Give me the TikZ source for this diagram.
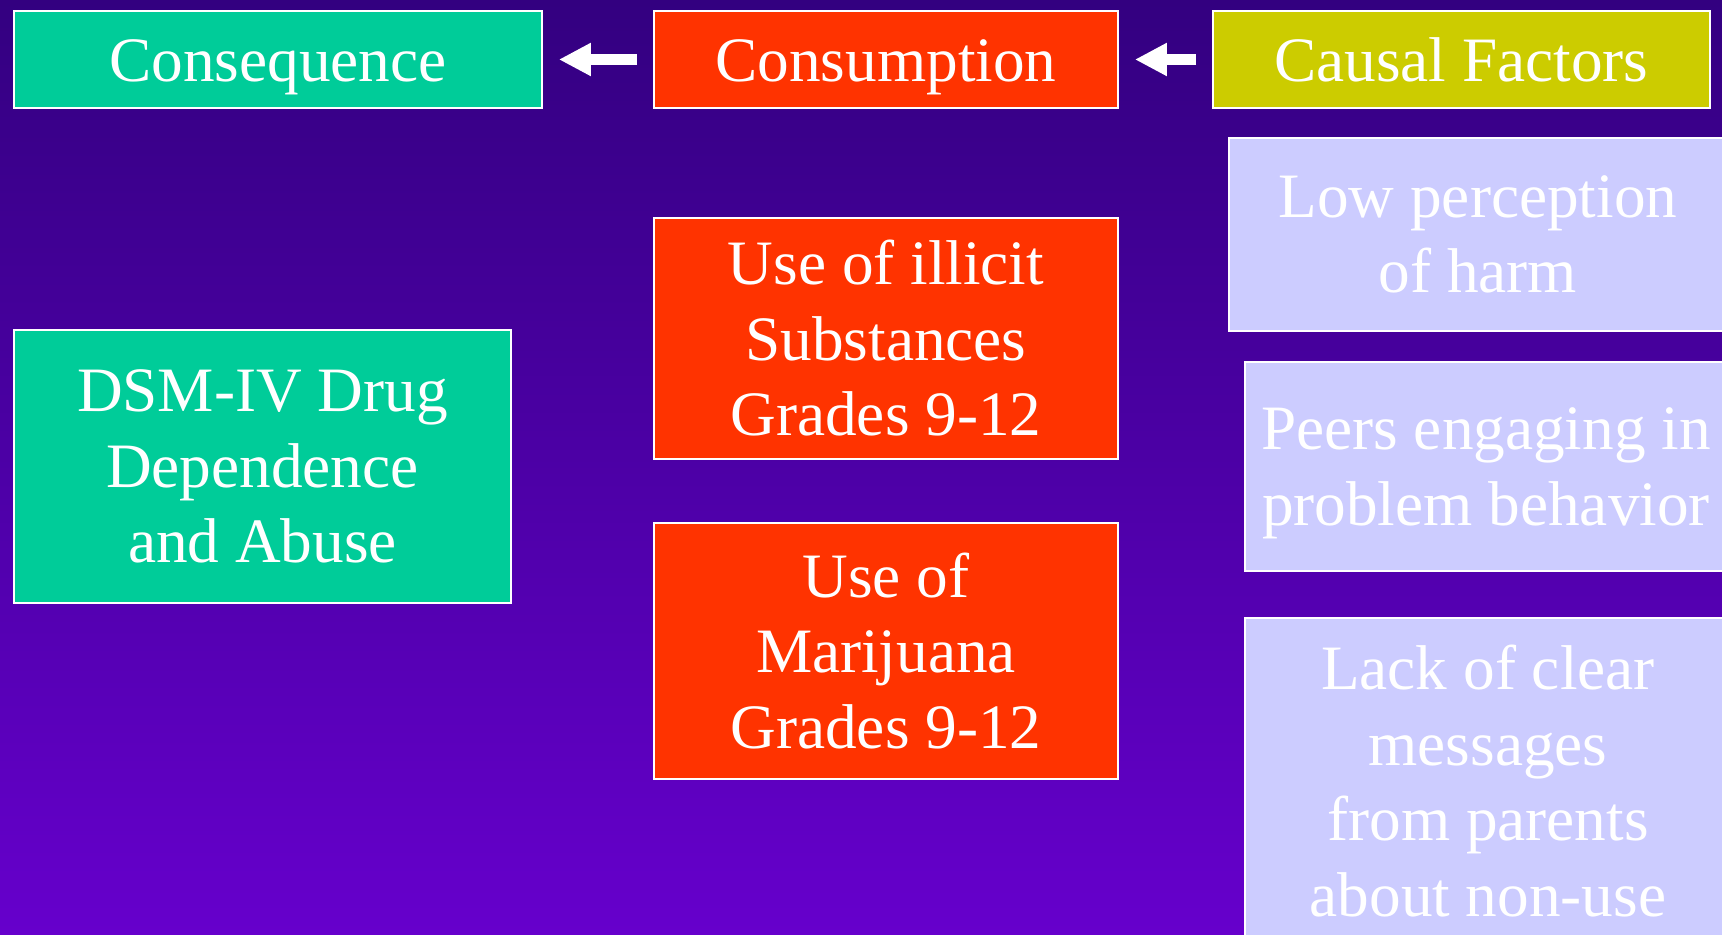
\documentclass[tikz,border=0pt]{standalone}
\usepackage{fontspec}
\setmainfont{Liberation Serif}
\usetikzlibrary{arrows.meta,positioning}
\definecolor{BgTop}{RGB}{51,0,128}
\definecolor{BgBottom}{RGB}{102,0,204}
\definecolor{SeaGreen}{RGB}{0,204,153}
\definecolor{HotRed}{RGB}{255,51,0}
\definecolor{OliveYellow}{RGB}{204,204,0}
\definecolor{Lavender}{RGB}{204,204,255}
\tikzset{
  box/.style={draw=white,line width=0.04cm,anchor=north west,inner sep=0pt,
              align=center,text=white,font=\fontsize{36}{43}\selectfont},
  head/.style={text height=0.9cm,text depth=0cm,minimum height=1.94cm},
  gbox/.style={box,fill=SeaGreen},
  rbox/.style={box,fill=HotRed},
  ybox/.style={box,fill=OliveYellow},
  lbox/.style={box,fill=Lavender},
  arr/.style={-{Triangle[length=0.64cm,width=0.62cm]},white,line width=0.22cm,
              shorten >=0.32cm,shorten <=0.32cm},
}
\begin{document}
\begin{tikzpicture}[x=0.02cm,y=-0.02cm]
  \useasboundingbox (0,0) rectangle (1722,935);
  \clip (0,0) rectangle (1722,935);
  \fill[top color=BgTop,bottom color=BgBottom] (0,0) rectangle (1722,935);
  % top row
  \node[gbox,head,minimum width=10.56cm] (conq) at (13,10) {Consequence};
  \node[rbox,head,minimum width=9.28cm] (cons) at (653,10) {Consumption};
  \node[ybox,head,minimum width=9.94cm] (cause) at (1212,10) {Causal Factors};
  \draw[arr] (cons) -- (conq);
  \draw[arr] (cause) -- (cons);
  % consequence
  \node[gbox,minimum width=9.94cm,minimum height=5.46cm] (dsm) at (13,329)
    {DSM-IV Drug\\Dependence\\and Abuse};
  % consumption
  \node[rbox,minimum width=9.28cm,minimum height=4.82cm] (illicit) at (653,217)
    {Use of illicit\\Substances\\Grades 9-12};
  \node[rbox,minimum width=9.28cm,minimum height=5.12cm] (mari) at (653,522)
    {Use of\\Marijuana\\Grades 9-12};
  % causal factors
  \node[lbox,minimum width=9.96cm,minimum height=3.86cm] (harm) at (1228,137)
    {Low perception\\of harm};
  \node[lbox,minimum width=9.64cm,minimum height=4.18cm] (peers) at (1244,361)
    {\rule{0pt}{1.1cm}Peers engaging in\\problem behavior};
  \node[lbox,minimum width=9.72cm,minimum height=6.52cm] (parents) at (1244,617)
    {Lack of clear\\messages\\from parents\\about non-use};
\end{tikzpicture}
\end{document}
